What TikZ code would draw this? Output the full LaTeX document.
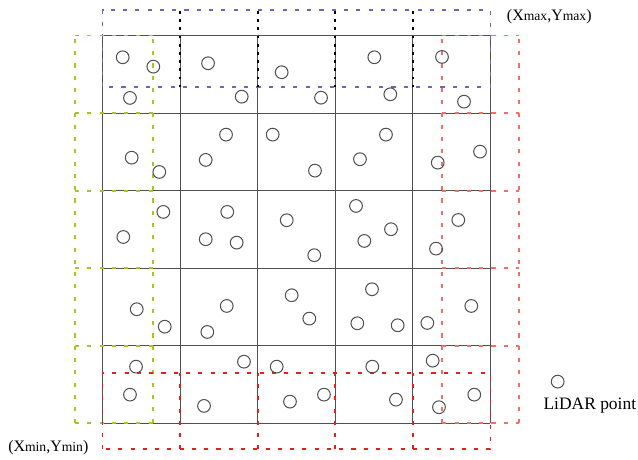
\documentclass[tikz,border=0pt]{standalone}
\usepackage{fontspec}
\setmainfont{Liberation Serif}
\usetikzlibrary{positioning}
\definecolor{mygrid}{RGB}{80,80,80}
\definecolor{mypurple}{RGB}{110,100,185}
\definecolor{mygreen}{RGB}{165,200,30}
\definecolor{mysalmon}{RGB}{245,110,100}
\definecolor{myred}{RGB}{230,30,30}
\tikzset{
  cellline/.style={color=mygrid, line width=0.8pt},
  shiftline/.style={dash pattern=on 3pt off 6pt, line width=1.4pt},
  divline/.style={color=black, dash pattern=on 2pt off 4pt, line width=1.3pt},
  lidarpt/.style={color=mygrid, line width=0.75pt},
  cornerlabel/.style={anchor=base west, inner sep=0pt, font=\fontsize{11.7}{13}\selectfont}
}
\newcommand{\subtxt}[1]{{\fontsize{10}{12}\selectfont #1}}

\begin{document}
\begin{tikzpicture}[x=2cm, y=2cm]
  \useasboundingbox (-1.321,-0.470) rectangle (6.901,5.457);

  % base grid
  \draw[cellline, step=2cm] (0,0) grid (5,5);

  % top window, shifted up
  \draw[shiftline, color=mypurple] (0,4.33) rectangle (5,5.33);
  \foreach \x in {1,...,4}
    \draw[divline] (\x,4.33) -- (\x,5.33);

  % left window, shifted left
  \draw[shiftline, color=mygreen] (-0.354,0) -- (-0.354,5) (0.646,0) -- (0.646,5);
  \foreach \y in {0,...,5}
    \draw[shiftline, color=mygreen] (-0.354,\y) -- (0.646,\y);

  % right window, shifted right
  \draw[shiftline, color=mysalmon] (4.38,0) -- (4.38,5) (5.37,0) -- (5.37,5);
  \foreach \y in {0,...,5}
    \draw[shiftline, color=mysalmon] (4.38,\y) -- (5.37,\y);

  % bottom window, shifted down
  \draw[shiftline, color=myred] (0,-0.335) rectangle (5,0.645);
  \foreach \x in {1,...,4}
    \draw[shiftline, color=myred] (\x,-0.335) -- (\x,0.645);

  % LiDAR points
  \foreach \u/\v in {0.260/4.719, 0.655/4.598, 0.354/4.195, 1.360/4.642, 1.794/4.211,
      2.309/4.526, 2.816/4.198, 3.503/4.719, 3.709/4.242, 4.375/4.723, 4.659/4.147,
      1.592/3.722, 0.376/3.425, 0.732/3.241, 1.330/3.396, 2.193/3.722, 2.738/3.258,
      3.653/3.722, 3.318/3.405, 4.320/3.361, 4.865/3.503,
      0.784/2.726, 0.268/2.403, 1.608/2.726, 1.330/2.374, 1.729/2.330, 2.374/2.619,
      2.729/2.168, 3.267/2.803, 3.718/2.503, 3.374/2.352, 4.585/2.622, 4.298/2.253,
      0.441/1.472, 0.802/1.247, 1.601/1.514, 1.351/1.179, 2.438/1.652, 2.665/1.351,
      3.473/1.729, 3.284/1.291, 3.804/1.265, 4.186/1.295, 4.753/1.514,
      0.432/0.732, 0.354/0.371, 1.823/0.796, 1.308/0.226, 2.245/0.732, 3.477/0.732,
      4.255/0.809, 2.416/0.281, 2.854/0.371, 3.782/0.307, 4.336/0.209, 4.791/0.371}
    \draw[lidarpt] (\u,\v) circle (0.082);

  % legend
  \draw[lidarpt] (5.866,0.539) circle (0.082);
  \node[anchor=base west, inner sep=0pt, font=\fontsize{12.8}{14}\selectfont] (ptlabel) at (5.680,0.174) {LiDAR point};

  % corner labels
  \node[cornerlabel] (maxlabel) at (5.209,5.191) {(X\subtxt{max},Y\subtxt{max})};
  \node[cornerlabel] (minlabel) at (-1.218,-0.363) {(X\subtxt{min},Y\subtxt{min})};
\end{tikzpicture}
\end{document}
